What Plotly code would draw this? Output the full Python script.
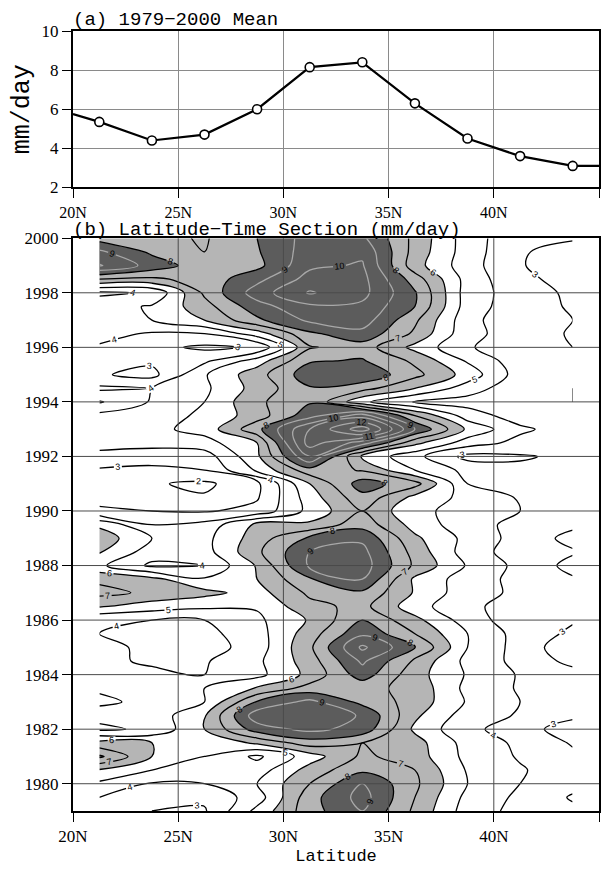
import numpy as np
import plotly.graph_objects as go

# ---------------- Panel (a): 1979-2000 mean ----------------
mean_lat = [21.25, 23.75, 26.25, 28.75, 31.25, 33.75, 36.25, 38.75, 41.25, 43.75]
mean_val = [5.35, 4.4, 4.7, 6.0, 8.15, 8.4, 6.3, 4.5, 3.6, 3.1]
edge_lat = [20.0, 45.0]
edge_val = [5.75, 3.1]

# ---------------- Panel (b): latitude-time section ----------------
grid_lat = [21.25, 23.75, 26.25, 28.75, 31.25, 33.75, 36.25, 38.75, 41.25, 43.75]
grid_year = np.arange(1979.0, 2000.01, 0.5)  # half-year rows, 1979 ... 2000

# values (mm/day) for each latitude column, from 1979 up to 2000
p21 = [3.8, 4.0, 4.8, 5.9, 8.2, 6.3, 3.8, 4.3, 5.3, 4.8, 4.3, 4.3, 4.5, 4.0, 4.1, 6.1, 7.3, 6.8, 5.2, 6.1, 6.6, 5.8,
       3.1, 2.8, 2.7, 2.9, 3.6, 4.5, 4.6, 4.3, 2.9, 4.2, 3.1, 3.7, 3.9, 4.3, 4.7, 4.6, 3.8, 7.0, 10.1, 9.2, 7.6]
p24 = [3.0, 3.3, 3.9, 5.0, 6.0, 6.0, 4.2, 4.4, 4.6, 4.6, 4.3, 3.8, 3.6, 3.7, 4.0, 5.5, 6.8, 6.3, 3.8, 4.5, 5.0, 4.0,
       3.0, 2.3, 2.1, 2.8, 3.4, 4.4, 4.7, 4.5, 4.1, 4.0, 2.7, 3.2, 3.3, 3.9, 5.0, 5.1, 4.1, 6.8, 8.6, 7.8, 7.3]
p26 = [2.9, 3.2, 4.0, 4.3, 5.0, 5.1, 6.0, 5.9, 5.0, 5.0, 4.0, 3.9, 3.5, 3.7, 4.0, 5.2, 6.3, 5.1, 4.0, 4.6, 4.7, 4.3,
       2.9, 2.1, 1.8, 3.0, 3.5, 4.6, 5.4, 5.2, 5.0, 4.8, 4.9, 3.8, 2.8, 4.0, 6.0, 6.6, 7.2, 7.4, 7.4, 7.0, 6.9]
p29 = [5.3, 4.5, 5.0, 4.5, 3.8, 6.2, 8.5, 9.6, 8.1, 6.1, 4.7, 4.8, 4.5, 4.6, 4.8, 5.1, 5.6, 6.0, 6.1, 6.8, 6.5, 6.3,
       3.3, 2.9, 2.7, 5.2, 5.8, 6.0, 7.7, 6.5, 6.8, 6.4, 6.6, 5.5, 3.1, 5.5, 7.8, 8.6, 9.5, 8.7, 7.7, 7.9, 8.0]
p31 = [7.6, 7.6, 7.0, 6.4, 5.5, 7.5, 9.3, 9.7, 9.3, 7.4, 6.3, 6.5, 6.8, 6.5, 6.1, 6.7, 7.2, 7.9, 9.2, 9.0, 8.2, 6.2,
       5.3, 5.5, 6.0, 7.6, 10.0, 11.5, 11.0, 8.6, 7.9, 7.9, 8.6, 7.9, 6.9, 7.8, 9.2, 9.8, 11.1, 10.4, 9.8, 9.5, 9.4]
p34 = [9.0, 9.4, 9.0, 7.8, 7.2, 7.0, 8.6, 8.9, 7.7, 7.3, 8.5, 9.2, 10.2, 8.8, 8.0, 7.3, 7.8, 9.0, 9.5, 9.3, 8.8, 7.6,
       7.0, 7.7, 8.5, 6.9, 5.8, 9.5, 13.6, 10.5, 5.2, 7.4, 8.8, 8.1, 7.5, 8.7, 9.5, 9.8, 10.3, 10.3, 10.1, 9.8, 9.2]
p36 = [6.8, 7.0, 7.2, 7.0, 6.5, 6.4, 5.8, 6.2, 6.6, 6.7, 6.4, 6.8, 8.1, 7.0, 6.3, 5.4, 5.9, 5.8, 6.8, 6.6, 6.2, 5.6,
       5.2, 5.7, 7.4, 5.0, 4.3, 6.3, 9.0, 7.0, 3.95, 6.0, 7.3, 6.8, 5.7, 6.8, 7.2, 8.0, 8.1, 7.5, 6.4, 6.6, 6.7]
p39 = [4.5, 4.7, 5.0, 4.9, 4.7, 4.6, 4.2, 4.5, 4.9, 4.7, 4.9, 4.7, 5.0, 5.0, 4.5, 4.2, 4.4, 4.5, 4.9, 4.5, 4.7, 4.4,
       4.7, 4.7, 4.0, 3.7, 2.7, 4.5, 5.8, 4.5, 3.6, 4.5, 5.6, 4.9, 4.1, 4.3, 4.3, 4.5, 4.5, 4.6, 4.4, 4.5, 4.5]
p41 = [3.7, 3.8, 4.0, 4.1, 3.9, 3.8, 3.6, 3.9, 4.0, 3.9, 3.9, 3.7, 3.6, 3.6, 3.4, 3.6, 3.8, 3.7, 3.7, 3.5, 3.6, 3.7,
       4.0, 3.9, 3.6, 3.2, 2.9, 3.7, 4.2, 3.5, 3.2, 3.3, 3.5, 3.4, 3.4, 3.5, 3.3, 3.4, 3.5, 3.2, 3.1, 3.1, 3.2]
p44 = [3.2, 2.9, 3.3, 3.4, 3.2, 2.9, 2.3, 3.3, 3.5, 3.3, 3.4, 2.7, 2.3, 2.8, 3.1, 3.3, 3.4, 3.1, 2.7, 3.1, 2.7, 3.2,
       3.8, 3.6, 3.3, 3.0, 3.2, 3.3, 3.5, 3.2, 3.0, 3.0, 3.1, 3.1, 3.0, 2.9, 3.0, 2.9, 2.8, 2.7, 2.2, 2.6, 3.1]

lat_ticks = [20, 25, 30, 35, 40, 45]
lat_labels = ["20N", "25N", "30N", "35N", "40N", "45N"]
year_ticks = [1980, 1982, 1984, 1986, 1988, 1990, 1992, 1994, 1996, 1998, 2000]
mean_ticks = [2, 4, 6, 8, 10]

z = np.column_stack([p21, p24, p26, p29, p31, p34, p36, p39, p41, p44])

LIGHT = "#b5b5b5"
DARK = "#5c5c5c"
TICKFONT = dict(family="Liberation Serif", size=17, color="black")
MONO = "Liberation Mono"

fig = go.Figure()

# panel (a)
fig.add_trace(go.Scatter(
    x=[edge_lat[0]] + mean_lat + [edge_lat[1]],
    y=[edge_val[0]] + mean_val + [edge_val[1]],
    mode="lines", line=dict(color="black", width=2.2),
    xaxis="x", yaxis="y", showlegend=False, hoverinfo="skip"))
fig.add_trace(go.Scatter(
    x=mean_lat, y=mean_val, mode="markers",
    marker=dict(symbol="circle", size=9, color="white",
                line=dict(color="black", width=1.6)),
    xaxis="x", yaxis="y", showlegend=False))

# panel (b): shading (<6 white, 6-8 light grey, >8 dark grey)
fig.add_trace(go.Contour(
    x=grid_lat, y=grid_year, z=z,
    autocontour=False,
    contours=dict(start=6, end=8, size=2, coloring="fill", showlines=False),
    colorscale=[[0, "white"], [0.25, "white"], [0.25, LIGHT], [0.75, LIGHT],
                [0.75, DARK], [1, DARK]],
    line=dict(width=0, smoothing=1),
    showscale=False, xaxis="x2", yaxis="y2", hoverinfo="skip"))

# panel (b): contour lines every 1 mm/day
fig.add_trace(go.Contour(
    x=grid_lat, y=grid_year, z=z,
    autocontour=False,
    contours=dict(start=2, end=13, size=1, coloring="lines",
                  showlabels=True,
                  labelfont=dict(family="Liberation Sans", size=9, color="black")),
    colorscale=[[0, "black"], [0.59, "black"], [0.59, "#a8a8a8"], [1, "#a8a8a8"]],
    line=dict(width=1.3, smoothing=1),
    showscale=False, xaxis="x2", yaxis="y2", hoverinfo="skip"))

# grid lines drawn above the shading in panel (b)
shapes = []
for t in lat_ticks[1:-1]:
    shapes.append(dict(type="line", xref="x2", yref="y2 domain", x0=t, x1=t, y0=0, y1=1,
                       line=dict(color="#4a4a4a", width=1), layer="above"))
for t in year_ticks[:-1]:
    shapes.append(dict(type="line", xref="x2 domain", yref="y2", x0=0, x1=1, y0=t, y1=t,
                       line=dict(color="#4a4a4a", width=1), layer="above"))

axis_common = dict(showline=True, mirror=True, linecolor="black", linewidth=2,
                   ticks="outside", ticklen=9, tickcolor="black", tickwidth=1,
                   zeroline=False)

# the page body has an 8px default margin, so the figure is 16px smaller
fig.update_layout(
    width=600, height=861,
    margin=dict(l=65, r=7, t=23, b=40),
    paper_bgcolor="white", plot_bgcolor="white",
    shapes=shapes,
    xaxis=dict(domain=[0, 1], anchor="y", range=[20, 45], tickvals=lat_ticks, ticktext=lat_labels,
               showgrid=True, gridcolor="#8a8a8a", gridwidth=1,
               tickfont=dict(family="Liberation Serif", size=16, color="black"), **axis_common),
    yaxis=dict(domain=[0.7995, 1.0], anchor="x", range=[2, 10], tickvals=mean_ticks,
               showgrid=True, gridcolor="#8a8a8a", gridwidth=1, tickfont=TICKFONT,
               title=dict(text="mm/day", font=dict(family=MONO, size=25, color="black"), standoff=6),
               **axis_common),
    xaxis2=dict(domain=[0, 1], anchor="y2", range=[20, 45], tickvals=lat_ticks, ticktext=lat_labels,
                showgrid=False, tickfont=TICKFONT,
                title=dict(text="Latitude", font=dict(family=MONO, size=17, color="black"), standoff=4),
                **axis_common),
    yaxis2=dict(domain=[0, 0.7343], anchor="x2", range=[1979, 2000], tickvals=year_ticks,
                showgrid=False, tickfont=TICKFONT, **axis_common),
    annotations=[
        dict(text="(a) 1979\u22122000 Mean", xref="paper", yref="paper", x=0, y=1.0,
             xanchor="left", yanchor="bottom", showarrow=False, xshift=-2, yshift=-2,
             font=dict(family=MONO, size=19, color="black")),
        dict(text="(b) Latitude\u2212Time Section (mm/day)", xref="paper", yref="paper", x=0, y=0.7343,
             xanchor="left", yanchor="bottom", showarrow=False, xshift=-2, yshift=-5,
             font=dict(family=MONO, size=19, color="black")),
    ],
)

fig.write_html("out.html")
